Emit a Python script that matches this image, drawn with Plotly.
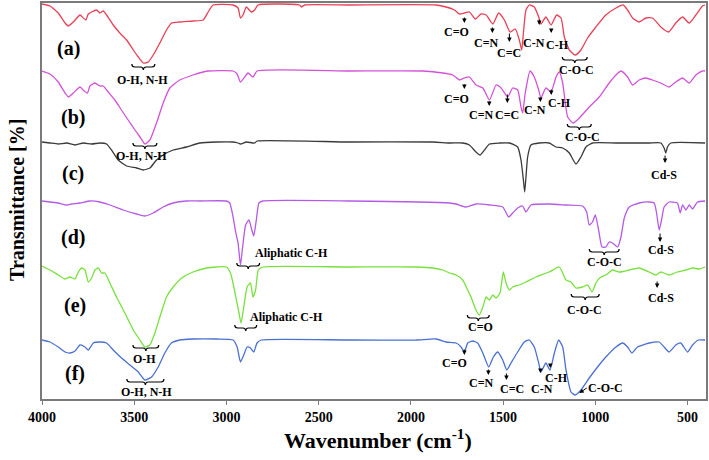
import plotly.graph_objects as go

# ---------------- data (wavenumber cm-1, stacked transmittance a.u.) ----------------
wn_a = [4000,3957,3912,3875,3857,3830,3794,3776,3762,3749,3731,3704,3686,3668,3650,3614,3578,3541,3505,3478,3451,3424,3397,3361,3325,3298,3253,3181,3126,3099,3072,2964,2937,2924,2910,2892,2865,2847,2829,2603,2594,2576,2332,1863,1809,1764,1737,1710,1683,1650,1620,1592,1556,1524,1493,1462,1434,1412,1399,1390,1376,1358,1331,1307,1295,1268,1240,1210,1186,1168,1141,1109,1078,1042,997,943,888,849,825,798,762,726,690,645,603,564,527,491,455,419,405]
t_a = [395,393,386,376,373,377,384,381,379,385,387,389,386,388,384,374,366,359,349,342,336,337,344,356,369,376,377,378,379,387,394,394,391,381,384,392,387,389,394,394,392,394,394,394,392,389,385,386,387,380,385,384,375,386,379,367,370,359,349,366,389,394,392,382,375,382,374,384,381,362,349,344,349,361,372,384,391,394,389,381,377,381,381,372,367,376,382,376,384,393,394]

wn_b = [4000,3957,3912,3875,3857,3830,3794,3772,3754,3740,3713,3686,3668,3641,3605,3569,3533,3496,3469,3442,3415,3379,3343,3307,3253,3181,3126,3099,2964,2942,2924,2901,2883,2856,2834,2332,1935,1827,1773,1737,1710,1683,1647,1610,1574,1538,1511,1475,1448,1421,1403,1394,1380,1354,1331,1307,1295,1268,1240,1213,1195,1177,1150,1120,1087,1033,979,925,888,861,825,798,762,726,690,645,600,564,527,491,455,419,405]
t_b = [328,325,317,306,302,306,312,308,306,313,316,313,313,307,299,289,279,269,262,255,259,276,296,311,319,324,327,328,328,325,317,322,326,322,328,328,328,326,324,319,321,322,314,311,299,314,311,302,311,309,292,286,306,328,322,309,301,311,307,322,327,316,282,276,281,292,302,316,324,328,322,314,319,321,319,316,312,317,321,316,324,328,328]

wn_c = [4000,3957,3912,3866,3821,3776,3731,3686,3650,3623,3587,3541,3487,3451,3415,3379,3343,3289,3217,3144,3054,2964,2937,2924,2892,2847,2834,2332,1881,1791,1719,1683,1647,1625,1601,1574,1520,1466,1421,1403,1390,1383,1376,1367,1349,1304,1250,1213,1177,1141,1105,1078,1051,1015,888,708,645,627,618,609,591,405]
t_c = [257,256,255,256,254,256,255,256,255,249,239,233,231,229,231,239,244,249,252,256,257,257,256,255,257,256,258,257,257,256,256,254,247,244,249,255,256,256,252,239,219,207,222,242,254,256,256,252,251,246,235,242,252,256,256,256,256,251,246,252,256,256]

wn_d = [4000,3957,3912,3866,3839,3794,3740,3686,3632,3560,3487,3442,3397,3343,3289,3217,3144,3000,2982,2964,2950,2937,2924,2914,2896,2878,2865,2852,2838,2824,2802,2332,1791,1755,1701,1647,1574,1502,1470,1448,1421,1394,1376,1349,1250,1159,1069,1047,1033,1015,1000,982,964,943,925,907,879,861,843,816,762,708,681,668,654,641,627,600,555,540,527,509,491,473,446,405]
t_d = [198,197,196,194,195,196,198,197,194,189,185,183,186,192,196,198,198,198,196,182,167,156,134,149,174,179,171,163,179,196,198,198,196,195,192,195,194,192,182,186,191,193,187,194,195,194,193,187,174,177,184,169,152,152,157,156,152,162,181,192,196,197,196,186,169,179,192,197,196,186,194,189,194,190,197,198]

wn_e = [4000,3957,3912,3875,3848,3821,3803,3785,3767,3749,3731,3713,3695,3677,3659,3632,3596,3551,3505,3469,3442,3415,3388,3361,3325,3289,3235,3181,3108,3054,3000,2978,2960,2946,2932,2921,2906,2888,2870,2856,2842,2827,2802,2332,1971,1881,1827,1791,1755,1719,1692,1674,1647,1629,1610,1592,1574,1556,1538,1517,1499,1484,1466,1448,1412,1376,1322,1250,1195,1159,1132,1105,1069,1042,1018,997,970,943,907,870,816,762,708,672,645,600,555,509,473,437,405]
t_e = [133,129,124,120,122,120,127,131,129,117,121,129,131,126,126,116,102,86,69,59,52,54,66,82,102,112,122,127,131,132,132,126,112,99,86,76,92,112,116,102,109,129,132,132,132,131,129,126,124,119,109,102,89,84,92,102,99,104,101,106,127,116,109,112,114,117,122,127,132,119,117,111,112,114,107,116,122,124,129,127,129,131,127,124,127,124,127,129,131,130,132]

wn_f = [4000,3957,3912,3875,3848,3821,3794,3767,3749,3722,3686,3650,3614,3569,3523,3478,3442,3406,3370,3334,3298,3253,3181,3054,2964,2942,2924,2906,2888,2870,2852,2834,2811,2332,1971,1863,1809,1755,1728,1710,1692,1665,1638,1610,1578,1553,1529,1502,1480,1457,1421,1385,1358,1331,1307,1295,1268,1246,1222,1199,1177,1159,1132,1109,1078,1033,988,943,888,852,825,802,771,708,654,627,600,564,537,500,473,441,405]
t_f = [59,57,52,47,46,48,54,52,49,56,57,56,49,41,34,27,19,22,32,46,56,59,60,60,59,52,37,44,52,51,47,56,59,59,59,60,57,56,52,47,56,58,56,46,32,42,47,39,29,36,47,57,59,52,36,27,36,29,46,59,52,29,7,4,9,21,32,42,52,56,52,46,52,56,57,52,47,54,56,47,54,59,59]

series_labels = ["(a)", "(b)", "(c)", "(d)", "(e)", "(f)"]
series_colors = ["#ea3f55", "#d452d8", "#3a3a3a", "#b55ae6", "#78e13c", "#4a70d2"]

x_ticks = [4000, 3500, 3000, 2500, 2000, 1500, 1000, 500]

SERIF = "Liberation Serif, Times New Roman, serif"
LAB = 12

fig = go.Figure()
for wn, t, name, col in zip([wn_a, wn_b, wn_c, wn_d, wn_e, wn_f],
                            [t_a, t_b, t_c, t_d, t_e, t_f],
                            series_labels, series_colors):
    fig.add_trace(go.Scatter(x=wn, y=t, mode="lines", name=name,
                             line=dict(color=col, width=1.3, shape="spline", smoothing=0.5),
                             showlegend=False, hoverinfo="skip"))

ann = []
shapes = []

def text(x, y, s, size=LAB):
    ann.append(dict(x=x, y=y, text="<b>" + s + "</b>", showarrow=False,
                    font=dict(family=SERIF, size=size, color="black"),
                    xanchor="center", yanchor="middle"))

def arrow(x, y_tip, y_tail):
    ann.append(dict(x=x, y=y_tip, ax=0, ay=-(y_tail - y_tip), text="",
                    showarrow=True, arrowhead=2, arrowsize=0.9, arrowwidth=1,
                    arrowcolor="black", standoff=0))

def brace(x1, x2, y, col="black"):
    d = 16
    xm = (x1 + x2) / 2
    p = (f"M {x1},{y+3} Q {x1},{y} {x1-d},{y} L {xm+d},{y} Q {xm},{y} {xm},{y-3} "
         f"Q {xm},{y} {xm-d},{y} L {x2+d},{y} Q {x2},{y} {x2},{y+3}")
    shapes.append(dict(type="path", path=p, xref="x", yref="y",
                       line=dict(color=col, width=1.2)))

# series labels
lab_pos = [(3859, 351), (3832, 282), (3832, 226), (3832, 162), (3821, 94), (3821, 26)]
for s, (x, y) in zip(series_labels, lab_pos):
    text(x, y, s, size=20)

# (a)
brace(3513, 3388, 332); text(3453, 319, "O-H, N-H")
text(1753, 367, "C=O"); arrow(1710, 376, 383)
text(1591, 356, "C=N"); arrow(1558, 366, 373)
text(1466, 346, "C=C"); arrow(1466, 357, 367)
text(1331, 356, "C-N"); arrow(1304, 374, 381)
text(1206, 354, "C-H"); arrow(1239, 366, 371)
brace(1179, 1044, 339); text(1103, 329, "C-O-C")
# (b)
brace(3507, 3377, 253); text(3459, 243, "O-H, N-H")
text(1753, 300, "C=O"); arrow(1710, 310, 316)
text(1618, 284, "C=N"); arrow(1575, 293, 299)
text(1477, 284, "C=C"); arrow(1477, 296, 306)
text(1326, 289, "C-N"); arrow(1298, 297, 302)
text(1196, 296, "C-H"); arrow(1239, 304, 311)
brace(1152, 1022, 272); text(1071, 262, "C-O-C")
# (c)
text(627, 224, "Cd-S"); arrow(622, 236, 245)
# (d)
brace(2944, 2820, 133); text(2646, 146, "Aliphatic C-H")
brace(1033, 871, 147); text(952, 137, "C-O-C")
text(643, 149, "Cd-S"); arrow(649, 157, 167)
# (e)
brace(2955, 2836, 71); text(2674, 82, "Aliphatic C-H")
brace(3507, 3367, 51); text(3442, 40, "O-H")
brace(1694, 1575, 81); text(1623, 72, "C=O")
brace(1131, 979, 102); text(1060, 89, "C-O-C")
text(643, 101, "Cd-S"); arrow(665, 111, 119)
# (f)
brace(3540, 3339, 17); text(3432, 7, "O-H, N-H")
text(1764, 36, "C=O"); arrow(1710, 44, 51)
text(1618, 16, "C=N"); arrow(1580, 24, 31)
text(1450, 10, "C=C"); arrow(1482, 19, 27)
text(1288, 10, "C-N"); arrow(1298, 26, 31)
text(1212, 21, "C-H"); arrow(1244, 31, 36)
text(947, 11, "C-O-C")
ann.append(dict(x=1087, y=6, ax=9, ay=-6, text="", showarrow=True, arrowhead=2,
                arrowsize=0.9, arrowwidth=1, arrowcolor="black", standoff=0))

# axis titles
ann.append(dict(x=0.506, y=-0.1, xref="paper", yref="paper", showarrow=False,
                text="<b>Wavenumber (cm<sup>-1</sup>)</b>",
                font=dict(family=SERIF, size=22, color="black"),
                xanchor="center", yanchor="middle"))
ann.append(dict(x=-0.0377, y=0.5025, xref="paper", yref="paper", showarrow=False,
                text="<b>Transmittance [%]</b>", textangle=-90,
                font=dict(family=SERIF, size=20, color="black"),
                xanchor="center", yanchor="middle"))

fig.update_layout(
    template="none",
    width=709, height=460,
    margin=dict(l=42, r=3, t=3, b=61),
    paper_bgcolor="white", plot_bgcolor="white",
    annotations=ann, shapes=shapes,
    xaxis=dict(range=[4000, 400], tickvals=x_ticks, automargin=False,
               ticktext=[f"<b>{v}</b>" for v in x_ticks],
               showgrid=False, zeroline=False, showline=True, mirror=True,
               linecolor="#7a7a7a", linewidth=1.5, ticks="outside", ticklen=4,
               tickcolor="#7a7a7a", tickfont=dict(family=SERIF, size=14, color="black")),
    yaxis=dict(range=[0, 396], showticklabels=False, showgrid=False, zeroline=False,
               automargin=False,
               showline=True, mirror=True, linecolor="#7a7a7a", linewidth=1.5, ticks=""),
)

fig.write_html("out.html", config={"displayModeBar": False},
               post_script="document.body.style.margin='0';document.body.style.overflow='hidden';")
